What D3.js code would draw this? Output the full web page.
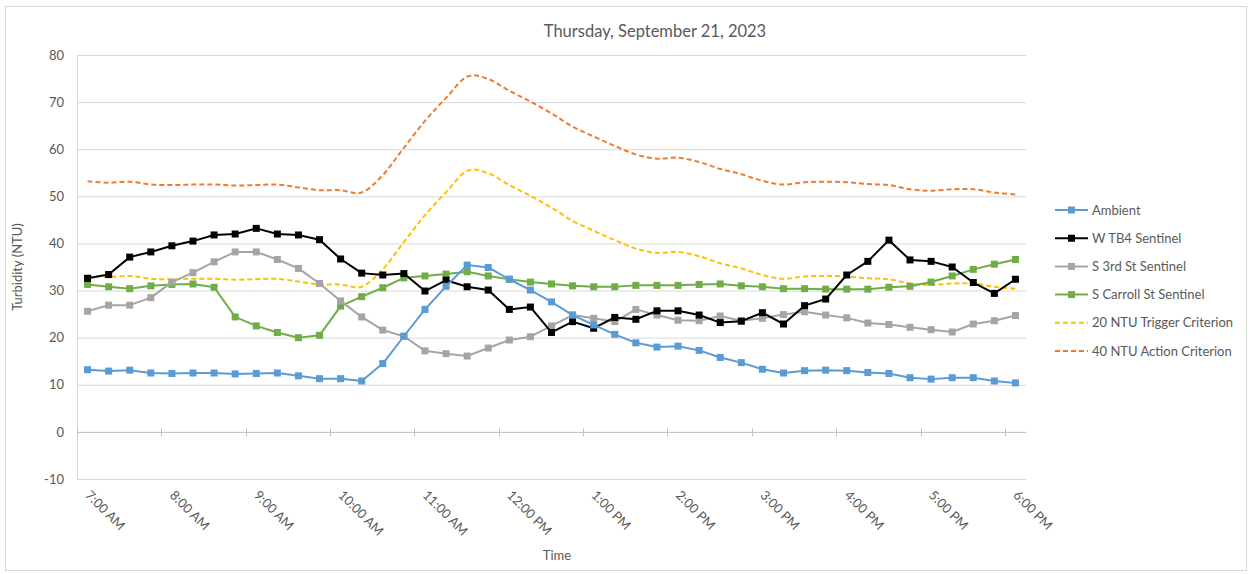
<!DOCTYPE html>
<html>
<head>
<meta charset="utf-8">
<script src="https://cdn.jsdelivr.net/npm/d3@7"></script>
<style>
  body { margin: 0; background: #fff; }
  text { font-family: Lato, "Liberation Sans", Arial, sans-serif; fill: #595959; }
</style>
</head>
<body>
<div class="chart"></div>
<script>
var svgWidth = 1252;
var svgHeight = 574;

var times = ["7:00 AM","7:15 AM","7:30 AM","7:45 AM","8:00 AM","8:15 AM","8:30 AM","8:45 AM",
  "9:00 AM","9:15 AM","9:30 AM","9:45 AM","10:00 AM","10:15 AM","10:30 AM","10:45 AM",
  "11:00 AM","11:15 AM","11:30 AM","11:45 AM","12:00 PM","12:15 PM","12:30 PM","12:45 PM",
  "1:00 PM","1:15 PM","1:30 PM","1:45 PM","2:00 PM","2:15 PM","2:30 PM","2:45 PM",
  "3:00 PM","3:15 PM","3:30 PM","3:45 PM","4:00 PM","4:15 PM","4:30 PM","4:45 PM",
  "5:00 PM","5:15 PM","5:30 PM","5:45 PM","6:00 PM"];

var tickLabels = ["7:00 AM","8:00 AM","9:00 AM","10:00 AM","11:00 AM","12:00 PM",
  "1:00 PM","2:00 PM","3:00 PM","4:00 PM","5:00 PM","6:00 PM"];

var yTicks = [-10, 0, 10, 20, 30, 40, 50, 60, 70, 80];

var ambient = [13.2,12.9,13.1,12.5,12.4,12.5,12.5,12.3,12.4,12.5,11.9,11.3,11.3,10.8,14.5,20.3,
  26.0,30.9,35.4,34.9,32.4,30.1,27.6,24.8,22.7,20.7,18.9,18.0,18.2,17.3,15.8,14.7,
  13.3,12.5,13.0,13.1,13.0,12.6,12.4,11.5,11.2,11.5,11.5,10.8,10.4];

var wtb4 = [32.6,33.4,37.1,38.2,39.5,40.5,41.8,42.0,43.2,42.0,41.8,40.8,36.7,33.7,33.3,33.6,
  29.9,32.2,30.8,30.1,26.0,26.5,21.1,23.4,22.0,24.3,23.9,25.7,25.7,24.8,23.2,23.5,
  25.3,22.9,26.8,28.2,33.3,36.2,40.7,36.5,36.2,35.0,31.7,29.4,32.4];

var s3rd = [25.6,26.9,26.9,28.5,31.8,33.8,36.1,38.2,38.2,36.6,34.7,31.5,27.8,24.4,21.6,20.3,
  17.2,16.6,16.1,17.8,19.5,20.2,22.5,24.8,24.1,23.4,26.0,24.8,23.7,23.6,24.6,23.6,
  24.1,24.9,25.5,24.8,24.2,23.1,22.8,22.2,21.7,21.2,22.9,23.6,24.7];

var sCarroll = [31.3,30.8,30.4,31.0,31.3,31.4,30.7,24.4,22.5,21.1,20.0,20.5,26.7,28.7,30.6,32.7,
  33.1,33.5,34.0,33.1,32.4,31.8,31.4,31.0,30.8,30.8,31.1,31.1,31.1,31.3,31.4,31.0,
  30.8,30.4,30.4,30.3,30.3,30.3,30.7,30.9,31.8,33.1,34.5,35.6,36.6];

var trigger = [33.2,32.9,33.1,32.5,32.4,32.5,32.5,32.3,32.4,32.5,31.9,31.3,31.3,30.8,34.5,40.3,
  46.0,50.9,55.4,54.9,52.4,50.1,47.6,44.8,42.7,40.7,38.9,38.0,38.2,37.3,35.8,34.7,
  33.3,32.5,33.0,33.1,33.0,32.6,32.4,31.5,31.2,31.5,31.5,30.8,30.4];

var action = [53.2,52.9,53.1,52.5,52.4,52.5,52.5,52.3,52.4,52.5,51.9,51.3,51.3,50.8,54.5,60.3,
  66.0,70.9,75.4,74.9,72.4,70.1,67.6,64.8,62.7,60.7,58.9,58.0,58.2,57.3,55.8,54.7,
  53.3,52.5,53.0,53.1,53.0,52.6,52.4,51.5,51.2,51.5,51.5,50.8,50.4];

var seriesNames = ["Ambient", "W TB4 Sentinel", "S 3rd St Sentinel", "S Carroll St Sentinel",
  "20 NTU Trigger Criterion", "40 NTU Action Criterion"];

var series = [
  { name: seriesNames[0], values: ambient, color: "#5B9BD5", marker: true },
  { name: seriesNames[1], values: wtb4, color: "#000000", marker: true },
  { name: seriesNames[2], values: s3rd, color: "#A5A5A5", marker: true },
  { name: seriesNames[3], values: sCarroll, color: "#70AD47", marker: true },
  { name: seriesNames[4], values: trigger, color: "#FFC000", marker: false },
  { name: seriesNames[5], values: action, color: "#ED7D31", marker: false }
];

var plot = { left: 77, right: 1026, top: 55, bottom: 479 };

var svg = d3.select(".chart")
  .append("svg")
  .attr("width", svgWidth)
  .attr("height", svgHeight);

// chart border
svg.append("rect")
  .attr("x", 5.5).attr("y", 6.5)
  .attr("width", 1241).attr("height", 564)
  .attr("fill", "none")
  .attr("stroke", "#D9D9D9");

var xScale = d3.scaleBand()
  .domain(times)
  .range([plot.left, plot.right])
  .padding(0);

var xc = d => xScale(d) + xScale.bandwidth() / 2;

var yScale = d3.scaleLinear()
  .domain([-10, 80])
  .range([plot.bottom, plot.top]);

// gridlines
svg.append("g")
  .selectAll("line")
  .data(yTicks.filter(d => d !== 0))
  .enter()
  .append("line")
  .attr("x1", plot.left).attr("x2", plot.right)
  .attr("y1", d => yScale(d) + 0.5).attr("y2", d => yScale(d) + 0.5)
  .attr("stroke", "#D9D9D9");

// vertical axis line
svg.append("line")
  .attr("x1", plot.left + 0.5).attr("x2", plot.left + 0.5)
  .attr("y1", plot.top).attr("y2", plot.bottom)
  .attr("stroke", "#D9D9D9");

// y axis labels (plain hyphen for negatives)
var leftAxis = d3.axisLeft(yScale)
  .tickValues(yTicks)
  .tickFormat(d => String(d))
  .tickSize(0)
  .tickPadding(13);
var yAxis = svg.append("g")
  .attr("transform", `translate(${plot.left}, 0)`)
  .call(leftAxis);
yAxis.select(".domain").remove();
yAxis.selectAll("text")
  .attr("font-size", "13px")
  .attr("font-family", "Lato, Liberation Sans, Arial, sans-serif")
  .attr("fill", "#595959");

// category axis at zero
var zeroY = yScale(0) + 0.5;
svg.append("line")
  .attr("x1", plot.left).attr("x2", plot.right)
  .attr("y1", zeroY).attr("y2", zeroY)
  .attr("stroke", "#BFBFBF");

var tickTimes = times.filter((d, i) => i % 4 === 0);
svg.append("g")
  .selectAll("line")
  .data(tickTimes)
  .enter()
  .append("line")
  .attr("x1", d => Math.round(xScale(d)) + 0.5)
  .attr("x2", d => Math.round(xScale(d)) + 0.5)
  .attr("y1", zeroY - 4).attr("y2", zeroY + 4)
  .attr("stroke", "#BFBFBF");

// rotated time labels
svg.append("g")
  .selectAll("text")
  .data(tickLabels)
  .enter()
  .append("text")
  .attr("transform", d => `translate(${xc(d) - 3}, ${plot.bottom + 17}) rotate(45)`)
  .attr("text-anchor", "start")
  .attr("font-size", "13px")
  .text(d => d);

// lines
var lineLinear = d3.line()
  .x((d, i) => xc(times[i]))
  .y(d => yScale(d));

var lineSmooth = d3.line()
  .x((d, i) => xc(times[i]))
  .y(d => yScale(d))
  .curve(d3.curveCatmullRom.alpha(0));

// draw criterion lines first, then sentinel lines on top (ambient last)
var drawOrder = [5, 4, 3, 2, 1, 0];
drawOrder.forEach(function(k) {
  var s = series[k];
  var g = svg.append("g");
  g.append("path")
    .datum(s.values)
    .attr("d", s.marker ? lineLinear : lineSmooth)
    .attr("fill", "none")
    .attr("stroke", s.color)
    .attr("stroke-width", 2)
    .attr("stroke-dasharray", s.marker ? null : "5,3")
    .attr("stroke-linejoin", "round");
  if (s.marker) {
    g.selectAll("rect")
      .data(s.values)
      .enter()
      .append("rect")
      .attr("x", (d, i) => xc(times[i]) - 3.5)
      .attr("y", d => yScale(d) - 3.5)
      .attr("width", 7)
      .attr("height", 7)
      .attr("fill", s.color);
  }
});

// legend
var legend = svg.append("g");
series.forEach(function(s, i) {
  var ly = 210 + i * 28.2;
  legend.append("line")
    .attr("x1", 1055).attr("x2", 1088)
    .attr("y1", ly).attr("y2", ly)
    .attr("stroke", s.color)
    .attr("stroke-width", 2)
    .attr("stroke-dasharray", s.marker ? null : "5,3");
  if (s.marker) {
    legend.append("rect")
      .attr("x", 1071.5 - 3.5).attr("y", ly - 3.5)
      .attr("width", 7).attr("height", 7)
      .attr("fill", s.color);
  }
  legend.append("text")
    .attr("x", 1092)
    .attr("y", ly + 4.5)
    .attr("font-size", "13px")
    .text(s.name);
});

// title and axis titles
svg.append("text")
  .attr("x", 655)
  .attr("y", 37)
  .attr("text-anchor", "middle")
  .attr("font-size", "16.5px")
  .text("Thursday, September 21, 2023");

svg.append("text")
  .attr("transform", `translate(22, ${(plot.top + plot.bottom) / 2}) rotate(-90)`)
  .attr("text-anchor", "middle")
  .attr("font-size", "13px")
  .text("Turbidity (NTU)");

svg.append("text")
  .attr("x", 557)
  .attr("y", 560)
  .attr("text-anchor", "middle")
  .attr("font-size", "13px")
  .text("Time");
</script>
</body>
</html>
